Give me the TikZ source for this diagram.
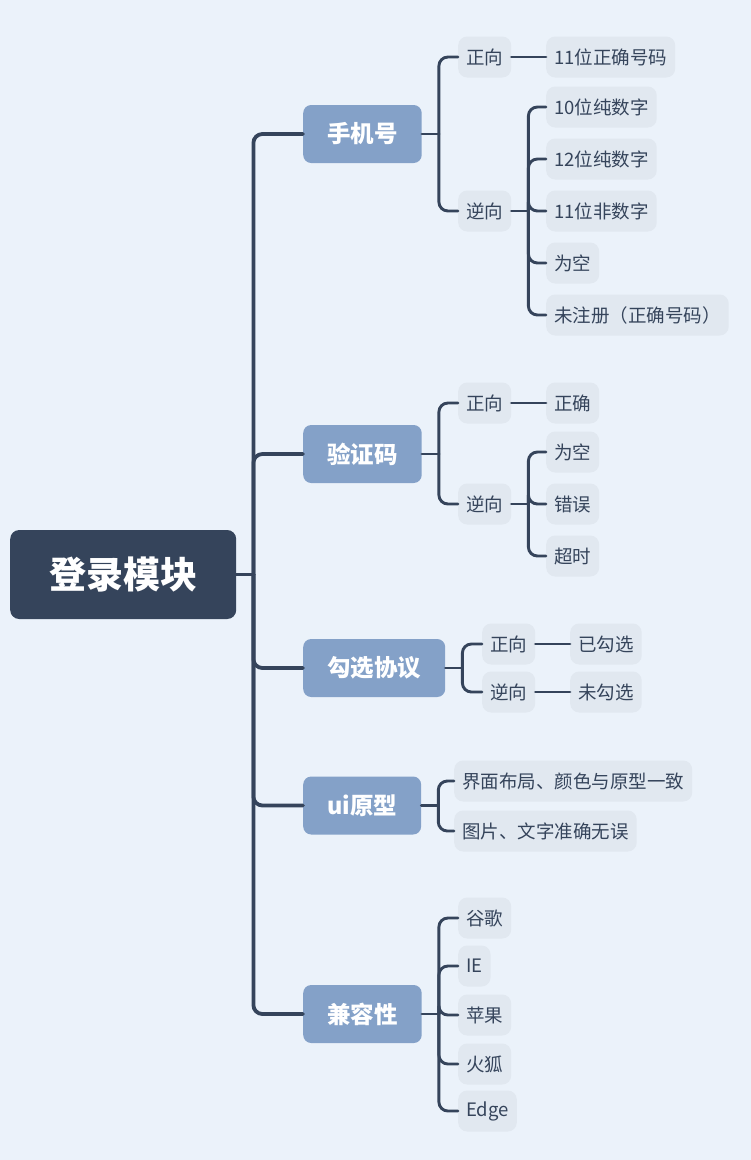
\documentclass[tikz,border=0pt]{standalone}
\usepackage{fontspec}
\setmainfont{Noto Sans CJK SC}
\usetikzlibrary{positioning}

\definecolor{navy}{HTML}{35445B}
\definecolor{topicblue}{HTML}{84A1C8}
\definecolor{leafgray}{HTML}{E1E8F0}
\definecolor{bgblue}{HTML}{EBF2FA}

\tikzset{
  rootbox/.style={fill=navy, text=white, font=\bfseries\fontsize{37}{40}\selectfont,
    rounded corners=9pt, inner xsep=39pt, minimum height=89pt, anchor=west},
  topic/.style={fill=topicblue, text=white, font=\bfseries\fontsize{23.5}{26}\selectfont,
    rounded corners=8pt, inner xsep=24pt, minimum height=58pt, anchor=west},
  leaf/.style={fill=leafgray, text=navy, font=\fontsize{18.5}{22}\selectfont,
    rounded corners=9pt, inner xsep=8pt, minimum height=41pt, anchor=west},
  link/.style={draw=navy, line width=2.9pt, line cap=round},
  trunk/.style={draw=navy, line width=3.8pt, line cap=round},
}

% stub from the parent, then one rounded elbow per child
\newcommand{\branch}[3][link]{%
  \draw[#1] (#2.east) -- ++(17,0);
  \foreach \c in {#3}
    \draw[#1, rounded corners=9pt] ([xshift=17pt]#2.east) |- (\c.west);
}

\begin{document}
\begin{tikzpicture}[x=1pt, y=-1pt]
  \fill[bgblue] (0,0) rectangle (751,1160);

  \node[rootbox] (login) at (10,574.5) {登录模块};

  \node[topic] (phone)  at (303,134)   {手机号};
  \node[topic] (code)   at (303,454)   {验证码};
  \node[topic] (agree)  at (303,668)   {勾选协议};
  \node[topic] (ui)     at (303,805.5) {ui原型};
  \node[topic] (compat) at (303,1014)  {兼容性};

  % phone
  \node[leaf] (phonePos)   at (458,57)  {正向};
  \node[leaf] (phoneNeg)   at (458,211) {逆向};
  \node[leaf] (phone11)    at (546,57)  {11位正确号码};
  \node[leaf] (phone10)    at (546,107) {10位纯数字};
  \node[leaf] (phone12)    at (546,159) {12位纯数字};
  \node[leaf] (phoneNaN)   at (546,211) {11位非数字};
  \node[leaf] (phoneEmpty) at (546,263) {为空};
  \node[leaf] (phoneUnreg) at (546,315) {未注册（正确号码）};

  % code
  \node[leaf] (codePos)     at (458,403) {正向};
  \node[leaf] (codeNeg)     at (458,504) {逆向};
  \node[leaf] (codeOk)      at (546,403) {正确};
  \node[leaf] (codeEmpty)   at (546,452) {为空};
  \node[leaf] (codeWrong)   at (546,504) {错误};
  \node[leaf] (codeTimeout) at (546,556) {超时};

  % agree
  \node[leaf] (agreePos) at (482,644) {正向};
  \node[leaf] (agreeNeg) at (482,692) {逆向};
  \node[leaf] (agreeYes) at (570,644) {已勾选};
  \node[leaf] (agreeNo)  at (570,692) {未勾选};

  % ui
  \node[leaf] (uiLayout) at (454,781) {界面布局、颜色与原型一致};
  \node[leaf] (uiText)   at (454,831) {图片、文字准确无误};

  % compat
  \node[leaf] (chrome)  at (458,918)  {谷歌};
  \node[leaf] (ie)      at (458,966)  {IE};
  \node[leaf] (safari)  at (458,1015) {苹果};
  \node[leaf] (firefox) at (458,1064) {火狐};
  \node[leaf] (edge)    at (458,1111) {Edge};

  \branch[trunk]{login}{phone,code,agree,ui,compat}
  \branch{phone}{phonePos,phoneNeg}
  \branch{phoneNeg}{phone10,phone12,phoneNaN,phoneEmpty,phoneUnreg}
  \branch{code}{codePos,codeNeg}
  \branch{codeNeg}{codeEmpty,codeWrong,codeTimeout}
  \branch{agree}{agreePos,agreeNeg}
  \branch{ui}{uiLayout,uiText}
  \branch{compat}{chrome,ie,safari,firefox,edge}

  % single children, straight
  \draw[link] (phonePos) -- (phone11);
  \draw[link] (codePos) -- (codeOk);
  \draw[link] (agreePos) -- (agreeYes);
  \draw[link] (agreeNeg) -- (agreeNo);
\end{tikzpicture}
\end{document}
